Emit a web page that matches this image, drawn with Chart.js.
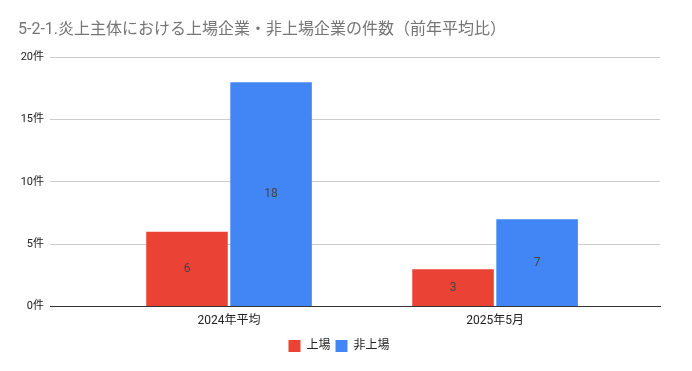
<!DOCTYPE html>
<html>
<head>
<meta charset="utf-8">
<script src="https://cdn.jsdelivr.net/npm/chart.js@4/dist/chart.umd.min.js"></script>
<style>
  html, body { margin: 0; padding: 0; background: #fff; }
  #wrap { width: 692px; height: 371px; }
</style>
</head>
<body>
<div id="wrap"><canvas id="c"></canvas></div>
<script>
const categories = ['2024年平均', '2025年5月'];
const listed = [6, 3];
const unlisted = [18, 7];
const seriesNames = ['上場', '非上場'];
const yTicks = [0, 5, 10, 15, 20];

const FONT = "Roboto, 'Noto Sans CJK JP', sans-serif";

// bar value labels in the middle of each bar
const barLabels = {
    id: 'barLabels',
    afterDatasetsDraw(chart) {
        const ctx = chart.ctx;
        ctx.save();
        ctx.font = `12px ${FONT}`;
        ctx.fillStyle = '#444';
        ctx.textAlign = 'center';
        ctx.textBaseline = 'middle';
        chart.data.datasets.forEach((ds, i) => {
            chart.getDatasetMeta(i).data.forEach((bar, j) => {
                const v = ds.data[j].y;
                ctx.fillText(v, bar.x, (bar.y + bar.base) / 2);
            });
        });
        ctx.restore();
    }
};

const toPoints = arr => arr.map((v, i) => ({ x: i, y: v }));

new Chart(document.getElementById('c'), {
    type: 'bar',
    data: {
        datasets: [
            { label: seriesNames[0], data: toPoints(listed), backgroundColor: '#ea4335' },
            { label: seriesNames[1], data: toPoints(unlisted), backgroundColor: '#4285f4' }
        ]
    },
    options: {
        responsive: true,
        maintainAspectRatio: false,
        animation: false,
        categoryPercentage: 0.632,
        barPercentage: 0.97,
        layout: { padding: { left: 18, right: 32, top: 4, bottom: 9 } },
        plugins: {
            title: {
                display: true,
                text: '5-2-1.炎上主体における上場企業・非上場企業の件数（前年平均比）',
                align: 'start',
                color: '#757575',
                font: { family: FONT, size: 16, weight: 'normal' },
                padding: { top: 16, bottom: 18 }
            },
            legend: {
                position: 'bottom',
                labels: {
                    boxWidth: 12,
                    boxHeight: 12,
                    padding: 5,
                    color: '#222',
                    font: { family: FONT, size: 12 }
                }
            },
            tooltip: { enabled: false }
        },
        scales: {
            x: {
                type: 'linear',
                offset: false,
                min: -0.673,
                max: 1.62,
                afterBuildTicks: axis => { axis.ticks = categories.map((c, i) => ({ value: i })); },
                ticks: {
                    callback: v => categories[v],
                    color: '#222',
                    font: { family: FONT, size: 12 },
                    padding: 7
                },
                grid: { display: false, drawTicks: false },
                border: { color: '#333', width: 1 }
            },
            y: {
                min: 0,
                max: 20,
                afterBuildTicks: axis => { axis.ticks = yTicks.map(v => ({ value: v })); },
                afterFit: axis => { axis.width = 32; },
                ticks: {
                    callback: v => v + '件',
                    color: '#222',
                    font: { family: FONT, size: 11 },
                    padding: 6
                },
                grid: {
                    color: ctx => ctx.tick.value === 0 ? '#333' : '#ccc',
                    drawTicks: false
                },
                border: { display: false }
            }
        }
    },
    plugins: [barLabels]
});
</script>
</body>
</html>
